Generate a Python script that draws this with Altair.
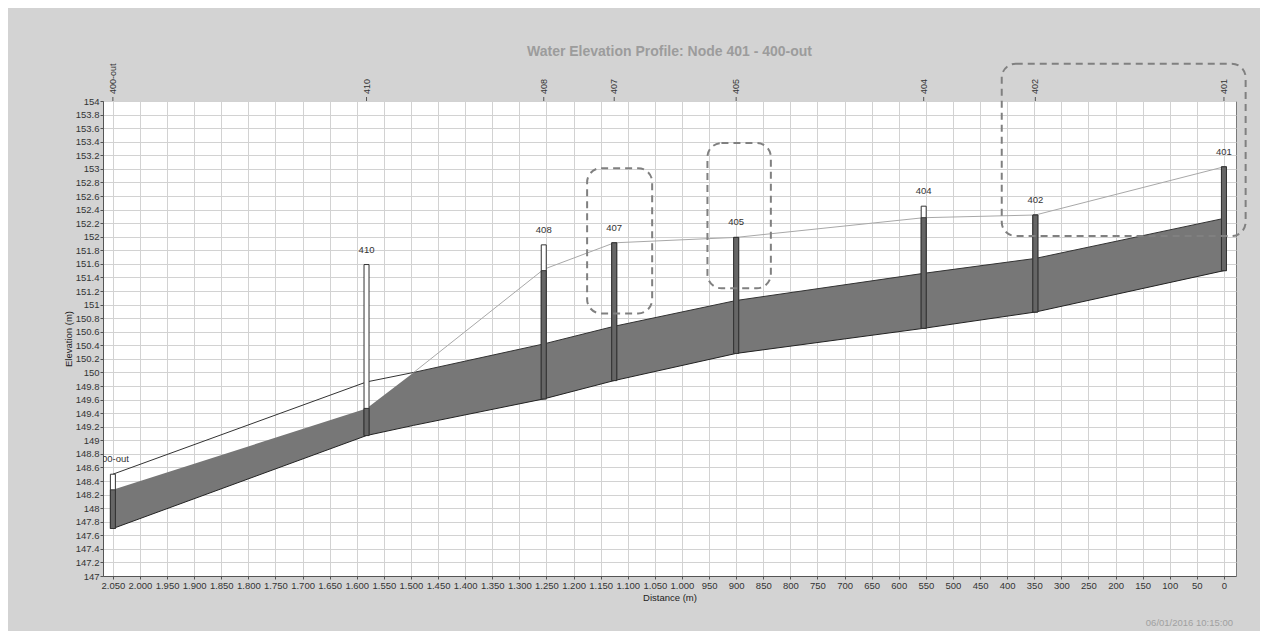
import altair as alt
import pandas as pd

# ---------------- data ----------------
node_names = ["400-out", "410", "408", "407", "405", "404", "402", "401"]
node_dist = [2050, 1582, 1255, 1125, 900, 554, 348, 0]
node_ground = [148.50, 151.59, 151.88, 151.91, 151.99, 152.45, 152.32, 153.03]
node_water = [148.27, 149.47, 151.50, 151.91, 151.99, 152.28, 152.32, 153.03]
node_invert = [147.70, 149.07, 149.61, 149.88, 150.28, 150.65, 150.89, 151.50]

fill_dist = [2050, 1582, 1495, 1255, 1125, 900, 554, 348, 0]
fill_bottom = [147.70, 149.07, 149.22, 149.61, 149.88, 150.28, 150.65, 150.89, 151.50]
fill_top = [148.27, 149.47, 150.00, 150.42, 150.68, 151.06, 151.46, 151.68, 152.27]

crown_dist = [2050, 1582, 1495, 1255, 1125, 900, 554, 348, 0]
crown_elev = [148.50, 149.86, 150.00, 150.42, 150.68, 151.06, 151.46, 151.68, 152.27]

hgl_dist = [1495, 1255, 1125, 900, 554, 348, 0]
hgl_elev = [150.00, 151.52, 151.91, 151.99, 152.28, 152.32, 153.03]

box_x1 = [1175, 953, 410]
box_x2 = [1055, 836, -40]
box_y1 = [153.01, 153.38, 154.55]
box_y2 = [150.87, 151.24, 152.01]

x_ticks = list(range(0, 2051, 50))
y_ticks = [round(147 + 0.2 * i, 1) for i in range(36)]

title_text = "Water Elevation Profile:  Node 401 - 400-out"
date_text = "06/01/2016 10:15:00"
x_title = "Distance (m)"
y_title = "Elevation (m)"

# ---------------- chart ----------------
W, H = 1133, 475
FONT = "Liberation Sans"

xs = alt.Scale(domain=[2059, -13], nice=False, zero=False)
ys = alt.Scale(domain=[147, 154], nice=False, zero=False)

x_label_expr = (
    "datum.value >= 1000 ? format(floor(datum.value / 1000), 'd') + '.' + "
    "format(datum.value % 1000, '03d') : format(datum.value, 'd')"
)

xaxis = alt.Axis(
    values=x_ticks, labelExpr=x_label_expr, title=x_title, grid=True,
    labelOverlap=False, labelFlush=False, labelPadding=1, tickSize=3,
    titlePadding=3,
)
yaxis = alt.Axis(
    values=y_ticks, format="~g", title=y_title, grid=True,
    labelOverlap=False, labelFlush=False, labelPadding=1, tickSize=3,
    titlePadding=2,
)


def X(field):
    return alt.X(field, type="quantitative", scale=xs, axis=xaxis)


def Y(field):
    return alt.Y(field, type="quantitative", scale=ys, axis=yaxis)


nodes = pd.DataFrame({
    "name": node_names, "dist": node_dist, "ground": node_ground,
    "water": node_water, "invert": node_invert,
})
fill_df = pd.DataFrame({"dist": fill_dist, "lo": fill_bottom, "hi": fill_top})
crown_df = pd.DataFrame({"dist": crown_dist, "elev": crown_elev})
hgl_df = pd.DataFrame({"dist": hgl_dist, "elev": hgl_elev})
box_df = pd.DataFrame({"x1": box_x1, "x2": box_x2, "y1": box_y1, "y2": box_y2})
date_df = pd.DataFrame({"t": [date_text]})

area = alt.Chart(fill_df).mark_area(color="#777777", opacity=1).encode(
    x=X("dist"), y=Y("lo"), y2="hi"
)
bottom_line = alt.Chart(fill_df).mark_line(color="#222222", strokeWidth=1).encode(
    x=X("dist"), y=Y("lo")
)
crown_line = alt.Chart(crown_df).mark_line(color="#333333", strokeWidth=1).encode(
    x=X("dist"), y=Y("elev")
)
hgl_line = alt.Chart(hgl_df).mark_line(color="#a8a8a8", strokeWidth=1).encode(
    x=X("dist"), y=Y("elev")
)
bar_white = alt.Chart(nodes).mark_bar(
    size=5, fill="white", stroke="#333333", strokeWidth=1
).encode(x=X("dist"), y=Y("invert"), y2="ground")
bar_dark = alt.Chart(nodes).mark_bar(
    size=5, fill="#666666", stroke="#333333", strokeWidth=1
).encode(x=X("dist"), y=Y("invert"), y2="water")
node_labels = alt.Chart(nodes).mark_text(
    dy=-12, baseline="alphabetic", fontSize=9.5, color="#333333", font=FONT, clip=True
).encode(x=X("dist"), y=Y("ground"), text="name:N")
top_labels = alt.Chart(nodes).mark_text(
    angle=270, align="left", baseline="middle", fontSize=9, color="#333333", font=FONT
).encode(x=X("dist"), y=alt.value(-7), text="name:N")
top_ticks = alt.Chart(nodes).mark_rule(color="#555555", strokeWidth=1).encode(
    x=X("dist"), y=alt.value(-4), y2=alt.value(0)
)
boxes = alt.Chart(box_df).mark_rect(
    filled=False, color="#808080", strokeWidth=2, strokeDash=[7, 5], cornerRadius=14
).encode(x=X("x1"), x2="x2", y=Y("y1"), y2="y2")
date_label = alt.Chart(date_df).mark_text(
    align="right", baseline="middle", fontSize=9.5, color="#a0a0a0", font=FONT
).encode(x=alt.value(W - 3), y=alt.value(H + 47), text="t:N")

chart = alt.layer(
    area, bottom_line, crown_line, hgl_line, bar_white, bar_dark,
    node_labels, top_ticks, top_labels, boxes, date_label,
).properties(
    width=W, height=H,
    title=alt.TitleParams(
        title_text, fontSize=14, fontWeight="bold", color="#9c9c9c", font=FONT,
        anchor="middle", offset=4,
    ),
    autosize=alt.AutoSizeParams(type="none"),
    padding={"left": 95, "top": 93, "right": 24, "bottom": 55},
).configure(
    background="#d3d3d3",
).configure_view(
    fill="white", stroke="#7a7a7a", strokeWidth=1,
).configure_axis(
    labelFont=FONT, titleFont=FONT, labelFontSize=9.5, titleFontSize=9.5,
    titleFontWeight="normal", labelColor="#333333", titleColor="#222222",
    gridColor="#d2d2d2", gridWidth=1, domainColor="#555555", tickColor="#555555",
)

chart.save("out.html", embed_options={"renderer": "svg", "actions": False})
